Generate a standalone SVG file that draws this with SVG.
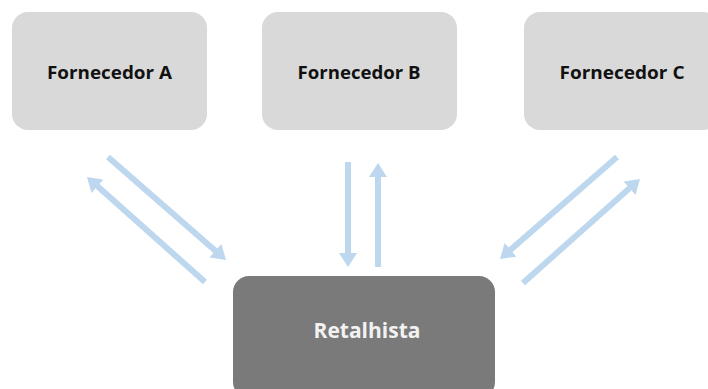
<svg xmlns="http://www.w3.org/2000/svg" width="708" height="389" viewBox="0 0 708 389">
<style>
.sup{fill:#D9D9D9}
.ret{fill:#7A7A7A}
.lbl{font-family:"Open Sans","Liberation Sans",sans-serif;font-weight:bold;font-size:17px;text-anchor:middle;fill:#111}
.lblr{font-family:"Open Sans","Liberation Sans",sans-serif;font-weight:bold;font-size:21px;text-anchor:middle;fill:#F2F2F2}
.arr{stroke:#BDD7EE;stroke-width:6;fill:none;marker-end:url(#ah)}
</style>
<defs>
<marker id="ah" viewBox="0 0 14 18" refX="1" refY="9" markerWidth="14" markerHeight="18" markerUnits="userSpaceOnUse" orient="auto">
<path d="M0,0 L14,9 L0,18 z" fill="#BDD7EE"/>
</marker>
</defs>
<rect width="708" height="389" fill="#fff"/>
<g id="fornecedor-a">
<rect class="sup" x="12" y="12" width="195" height="118" rx="16"/>
<text class="lbl" x="109.5" y="79" textLength="125" lengthAdjust="spacingAndGlyphs">Fornecedor A</text>
</g>
<g id="fornecedor-b">
<rect class="sup" x="262" y="12" width="195" height="118" rx="16"/>
<text class="lbl" x="359" y="79" textLength="123" lengthAdjust="spacingAndGlyphs">Fornecedor B</text>
</g>
<g id="fornecedor-c">
<rect class="sup" x="524" y="12" width="195" height="118" rx="16"/>
<text class="lbl" x="622" y="79" textLength="125" lengthAdjust="spacingAndGlyphs">Fornecedor C</text>
</g>
<g id="retalhista">
<rect class="ret" x="233" y="276" width="262" height="122" rx="16"/>
<text class="lblr" x="367" y="338">Retalhista</text>
</g>
<g id="connectors">
<line class="arr" x1="108" y1="157" x2="216.2" y2="251.4"/>
<line class="arr" x1="205" y1="282" x2="96.7" y2="185.6"/>
<line class="arr" x1="348" y1="162" x2="348" y2="254"/>
<line class="arr" x1="378" y1="267" x2="378" y2="176"/>
<line class="arr" x1="617" y1="157" x2="509.8" y2="250.5"/>
<line class="arr" x1="523" y1="283" x2="630.3" y2="187.6"/>
</g>
</svg>
